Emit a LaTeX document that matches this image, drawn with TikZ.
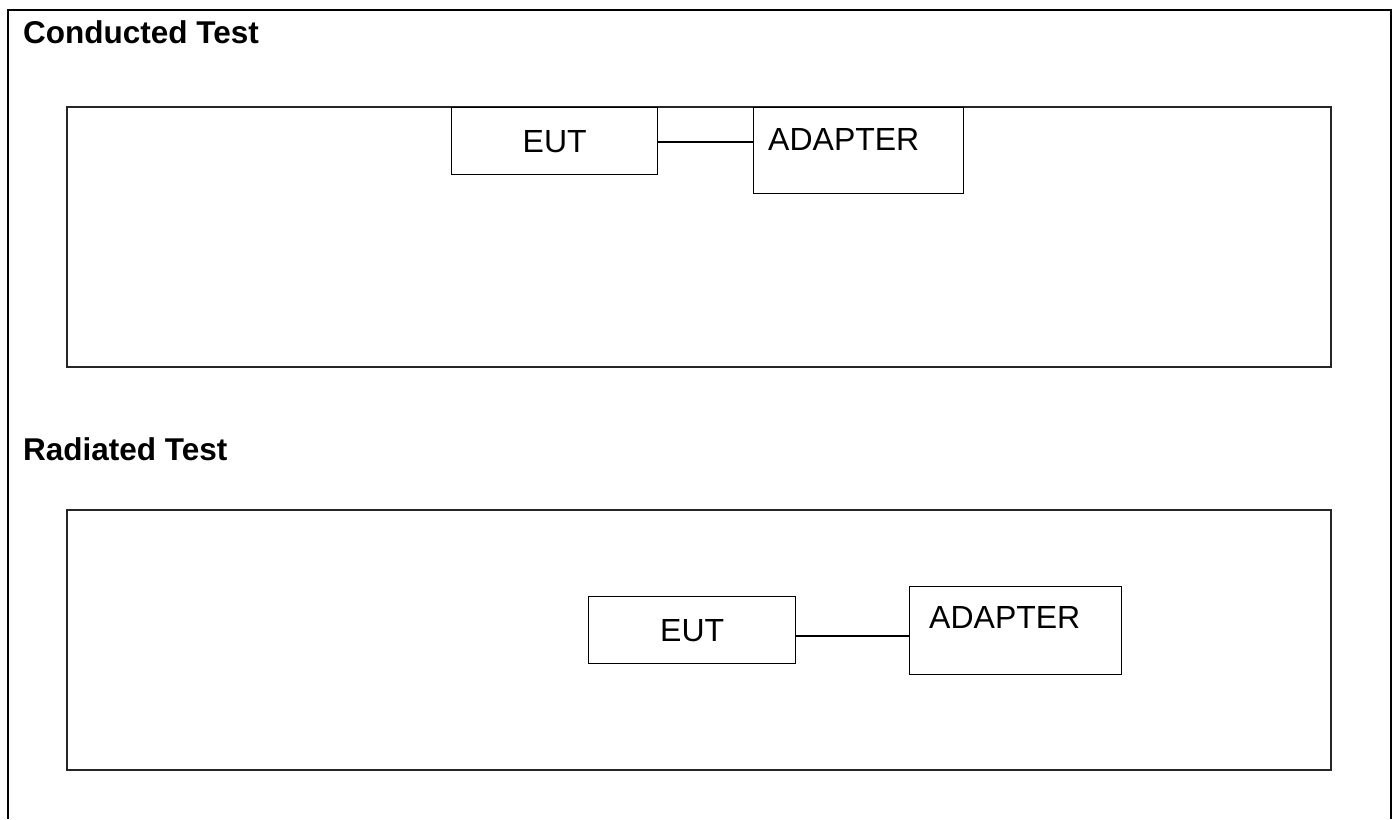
\documentclass[tikz,border=0pt]{standalone}
\usepackage{fontspec}
\setmainfont{Liberation Sans}
\begin{document}
\begin{tikzpicture}[x=1pt,y=-1pt,
  frame/.style={draw=black,line width=2pt},
  panel/.style={draw=black!85,line width=1.8pt},
  unit/.style={draw=black,line width=1.3pt,rectangle,inner sep=0pt,anchor=north west,
    font=\fontsize{32}{38}\selectfont},
  txt/.style={inner sep=0pt,font=\fontsize{32}{38}\selectfont},
  title/.style={inner sep=0pt,anchor=base west,font=\fontsize{31.5}{37}\selectfont\bfseries},
  wire/.style={draw=black,line width=1.3pt}]
\useasboundingbox (0,0) rectangle (1397,819);
\fill[white] (0,0) rectangle (1397,819);
% outer frame
\draw[frame] (8,819) -- (8,10) -- (1391,10) -- (1391,819);
% titles
\node[title] (t1) at (23,43) {Conducted Test};
\node[title] (t2) at (23,460) {Radiated Test};
% panels
\draw[panel] (67,107) rectangle (1331,367);
\draw[panel] (67,510) rectangle (1331,770);
% conducted
\node[unit,minimum width=206,minimum height=67] (eut1) at (451,107) {EUT};
\node[unit,minimum width=210,minimum height=86] (ad1) at (753,107) {};
\node[txt,anchor=base west] (adt1) at (768,150) {ADAPTER};
\draw[wire] (eut1.east |- 0,142) -- (ad1.west |- 0,142);
% radiated
\node[unit,minimum width=207,minimum height=67] (eut2) at (588,596) {EUT};
\node[unit,minimum width=212,minimum height=88] (ad2) at (909,586) {};
\node[txt,anchor=base west] (adt2) at (929,628) {ADAPTER};
\draw[wire] (eut2.east |- 0,636) -- (ad2.west |- 0,636);
\end{tikzpicture}
\end{document}
